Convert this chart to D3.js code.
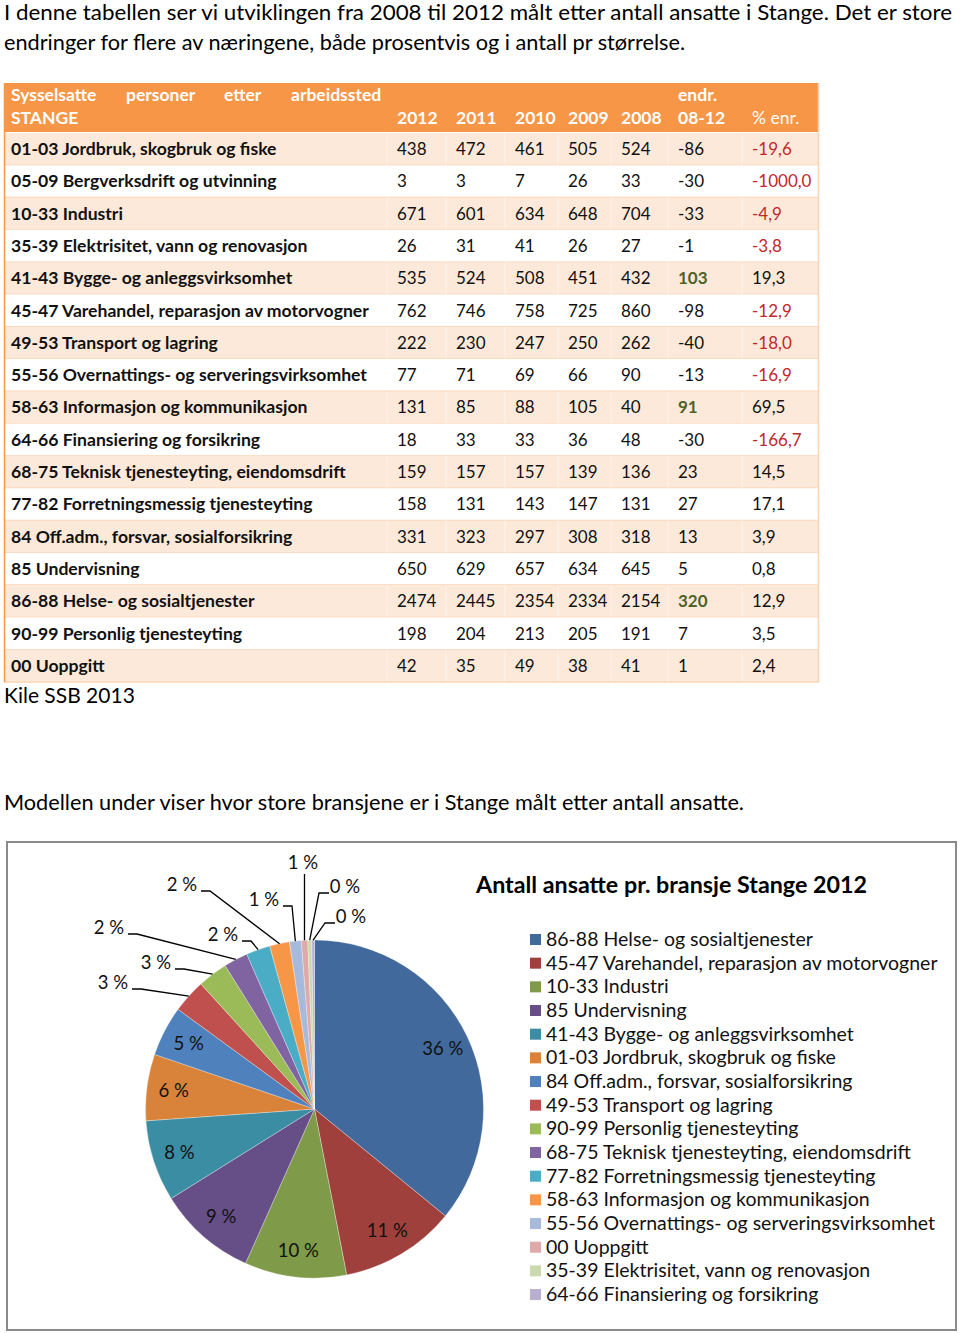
<!DOCTYPE html>
<html><head><meta charset="utf-8">
<script src="https://cdn.jsdelivr.net/npm/d3@7"></script>
<style>body{margin:0;background:#fff} svg{display:block} text{font-family:Lato,"Open Sans",sans-serif}</style>
</head><body><svg id="c" width="960" height="1333"></svg>
<script>
// ---------- DATA ----------
const industries = [
  "01-03 Jordbruk, skogbruk og fiske",
  "05-09 Bergverksdrift og utvinning",
  "10-33 Industri",
  "35-39 Elektrisitet, vann og renovasjon",
  "41-43 Bygge- og anleggsvirksomhet",
  "45-47 Varehandel, reparasjon av motorvogner",
  "49-53 Transport og lagring",
  "55-56 Overnattings- og serveringsvirksomhet",
  "58-63 Informasjon og kommunikasjon",
  "64-66 Finansiering og forsikring",
  "68-75 Teknisk tjenesteyting, eiendomsdrift",
  "77-82 Forretningsmessig tjenesteyting",
  "84 Off.adm., forsvar, sosialforsikring",
  "85 Undervisning",
  "86-88 Helse- og sosialtjenester",
  "90-99 Personlig tjenesteyting",
  "00 Uoppgitt"
];
const v2012 = [438,3,671,26,535,762,222,77,131,18,159,158,331,650,2474,198,42];
const v2011 = [472,3,601,31,524,746,230,71,85,33,157,131,323,629,2445,204,35];
const v2010 = [461,7,634,41,508,758,247,69,88,33,157,143,297,657,2354,213,49];
const v2009 = [505,26,648,26,451,725,250,66,105,36,139,147,308,634,2334,205,38];
const v2008 = [524,33,704,27,432,860,262,90,40,48,136,131,318,645,2154,191,41];
const change = [-86,-30,-33,-1,103,-98,-40,-13,91,-30,23,27,13,5,320,7,1];
const pctChange = ["-19,6","-1000,0","-4,9","-3,8","19,3","-12,9","-18,0","-16,9","69,5","-166,7","14,5","17,1","3,9","0,8","12,9","3,5","2,4"];
const yearLabels = ["2012","2011","2010","2009","2008"];
const pieExcluded = ["05-09 Bergverksdrift og utvinning"];
const pieColors = ["#41699b","#a0403d","#7f9a48","#664f87","#3b8da3","#d8823a","#4f81bd","#c0504d","#9bbb59","#8064a2","#4bacc6","#f79646","#a7badc","#dea9a8","#cadaae","#b9afce"];

// ---------- TEXTS ----------
const intro1 = "I denne tabellen ser vi utviklingen fra 2008 til 2012 målt etter antall ansatte i Stange. Det er store";
const intro2 = "endringer for flere av næringene, både prosentvis og i antall pr størrelse.";
const source = "Kile SSB 2013";
const intro3 = "Modellen under viser hvor store bransjene er i Stange målt etter antall ansatte.";
const chartTitle = "Antall ansatte pr. bransje Stange 2012";

const svg = d3.select("#c");

// paragraph text
svg.append("text").attr("x",4).attr("y",20).attr("font-size",21).attr("textLength",948).attr("lengthAdjust","spacingAndGlyphs").text(intro1);
svg.append("text").attr("x",4).attr("y",50).attr("font-size",21).attr("textLength",681).attr("lengthAdjust","spacingAndGlyphs").text(intro2);

// ---------- TABLE ----------
const colKeys = ["label","2012","2011","2010","2009","2008","endr","pct"];
const colX = d3.scaleOrdinal().domain(colKeys).range([11,397,456,515,568,621,678,752]);
const tableLeft = 4, tableRight = 819;
const rowY = d3.scaleBand().domain(d3.range(industries.length)).range([133,682]);

const tbl = svg.append("g");
tbl.append("rect").attr("x",tableLeft).attr("y",83).attr("width",tableRight-tableLeft).attr("height",49).attr("fill","#f79646");
const hdr = tbl.append("g").attr("fill","#fff").attr("font-weight","bold").attr("font-size",17.5);
[["Sysselsatte",11],["personer",126],["etter",224],["arbeidssted",291]].forEach(([t,x])=>hdr.append("text").attr("x",x).attr("y",101).text(t));
hdr.append("text").attr("x",11).attr("y",124).text("STANGE");
yearLabels.forEach(y=>hdr.append("text").attr("x",colX(y)).attr("y",124).text(y));
hdr.append("text").attr("x",colX("endr")).attr("y",101).text("endr.");
hdr.append("text").attr("x",colX("endr")).attr("y",124).text("08-12");
hdr.append("text").attr("x",colX("pct")).attr("y",124).attr("font-weight","normal").text("% enr.");

const rows = tbl.selectAll("g.row").data(industries).join("g").attr("class","row")
  .attr("transform",(d,i)=>`translate(0,${rowY(i)})`);
rows.append("rect").attr("x",tableLeft).attr("width",tableRight-tableLeft).attr("height",rowY.bandwidth())
  .attr("fill",(d,i)=>i%2===0?"#fde9d9":"#ffffff");
rows.append("line").attr("x1",tableLeft).attr("x2",tableRight).attr("y1",rowY.bandwidth()).attr("y2",rowY.bandwidth())
  .attr("stroke","#fbd4b4").attr("stroke-width",1.5);
// faint column separators in shaded rows
rows.filter((d,i)=>i%2===0).selectAll("line.sep").data(colKeys.slice(1)).join("line").attr("class","sep")
  .attr("x1",k=>colX(k)-10).attr("x2",k=>colX(k)-10).attr("y1",0).attr("y2",rowY.bandwidth())
  .attr("stroke","#fff").attr("stroke-opacity",0.45).attr("stroke-width",1);
const by = rowY.bandwidth()/2+6;
rows.append("text").attr("x",colX("label")).attr("y",by).attr("font-weight","bold").attr("font-size",17.6).attr("fill","#111").text(d=>d);
const series = [v2012,v2011,v2010,v2009,v2008];
yearLabels.forEach((y,j)=>{
  rows.append("text").attr("x",colX(y)).attr("y",by).attr("font-size",17).attr("fill","#111").text((d,i)=>series[j][i]);
});
const top3 = change.slice().sort((a,b)=>b-a).slice(0,3);
rows.append("text").attr("x",colX("endr")).attr("y",by).attr("font-size",17)
  .attr("font-weight",(d,i)=>top3.includes(change[i])?"bold":"normal")
  .attr("fill",(d,i)=>top3.includes(change[i])?"#4f6228":"#111").text((d,i)=>change[i]);
rows.append("text").attr("x",colX("pct")).attr("y",by).attr("font-size",17)
  .attr("fill",(d,i)=>pctChange[i].startsWith("-")?"#c0282d":"#111").text((d,i)=>pctChange[i]);
tbl.append("line").attr("x1",tableLeft+0.5).attr("x2",tableLeft+0.5).attr("y1",83).attr("y2",682).attr("stroke","#f79646").attr("stroke-width",1.5);
tbl.append("line").attr("x1",tableRight-0.5).attr("x2",tableRight-0.5).attr("y1",83).attr("y2",682).attr("stroke","#fbd4b4").attr("stroke-width",1.5);

svg.append("text").attr("x",4).attr("y",703).attr("font-size",21).text(source);
svg.append("text").attr("x",4).attr("y",810).attr("font-size",21).attr("textLength",740).attr("lengthAdjust","spacingAndGlyphs").text(intro3);

// ---------- PIE CHART ----------
svg.append("rect").attr("x",7).attr("y",842).attr("width",949).attr("height",488).attr("fill","#fff").attr("stroke","#8a8a8a").attr("stroke-width",2);
svg.append("text").attr("x",476).attr("y",893).attr("font-size",22).attr("font-weight","bold").attr("textLength",391).attr("lengthAdjust","spacingAndGlyphs").text(chartTitle);

const pieData = industries.map((n,i)=>({name:n,value:v2012[i]}))
  .filter(d=>!pieExcluded.includes(d.name))
  .sort((a,b)=>b.value-a.value);
const total = d3.sum(pieData,d=>d.value);
const color = d3.scaleOrdinal().domain(pieData.map(d=>d.name)).range(pieColors);
const cx = 314.5, cy = 1109, R = 169;
const arcs = d3.pie().sort(null).value(d=>d.value)(pieData);
const arc = d3.arc().innerRadius(0).outerRadius(R);
const pg = svg.append("g").attr("transform",`translate(${cx},${cy})`);
pg.selectAll("path").data(arcs).join("path").attr("d",arc).attr("fill",d=>color(d.data.name))
  .attr("stroke","#fff").attr("stroke-opacity",0.5).attr("stroke-width",0.6);

const pctText = d=>Math.round(d.value/total*100)+" %";
const insideArc = d3.arc().innerRadius(R*0.84).outerRadius(R*0.84);
const inside = arcs.filter(d=>d.value/total>=0.04);
pg.selectAll("text.in").data(inside).join("text").attr("class","in")
  .attr("transform",d=>`translate(${insideArc.centroid(d)})`).attr("text-anchor","middle").attr("dy","0.35em")
  .attr("font-size",18.5).attr("fill","#111").text(pctText);

// outside label placement (label centers relative to pie centre), Excel-like layout
const outsideLayout = [[-201.5,-126],[-158.5,-146],[-205.5,-181],[-91.5,-174],[-132.5,-224],[-50.5,-209],[-11.5,-246],[30.5,-222],[36.5,-192]];
const outside = arcs.filter(d=>d.value/total<0.04);
const og = pg.append("g");
outside.forEach((d,k)=>{
  const [lx,ly] = outsideLayout[k];
  const mid = (d.startAngle+d.endAngle)/2;
  const px = R*Math.sin(mid), py = -R*Math.cos(mid);
  let pts;
  if (Math.abs(lx-px)<6) { pts = [[px,ly+11],[px,py]]; }
  else if (lx<px) { pts = [[lx+19,ly+6],[lx+28,ly+6],[px,py]]; }
  else { pts = [[lx-16,ly+6],[lx-26,ly+6],[px,py]]; }
  og.append("path").attr("d",d3.line()(pts)).attr("fill","none").attr("stroke","#000").attr("stroke-width",1.3);
  og.append("text").attr("x",lx).attr("y",ly).attr("dy","0.35em").attr("text-anchor","middle").attr("font-size",18.5).attr("fill","#111").text(pctText(d));
});

// legend
const leg = svg.append("g").attr("transform","translate(530,939)");
const ly = d3.scaleBand().domain(pieData.map(d=>d.name)).range([0,23.67*16]);
const li = leg.selectAll("g").data(pieData).join("g").attr("transform",d=>`translate(0,${ly(d.name)})`);
li.append("rect").attr("x",0).attr("y",-5).attr("width",11).attr("height",11).attr("fill",d=>color(d.name));
li.append("text").attr("x",16).attr("y",0).attr("dy","0.36em").attr("font-size",19.5).attr("fill","#111").text(d=>d.name);
</script></body></html>
